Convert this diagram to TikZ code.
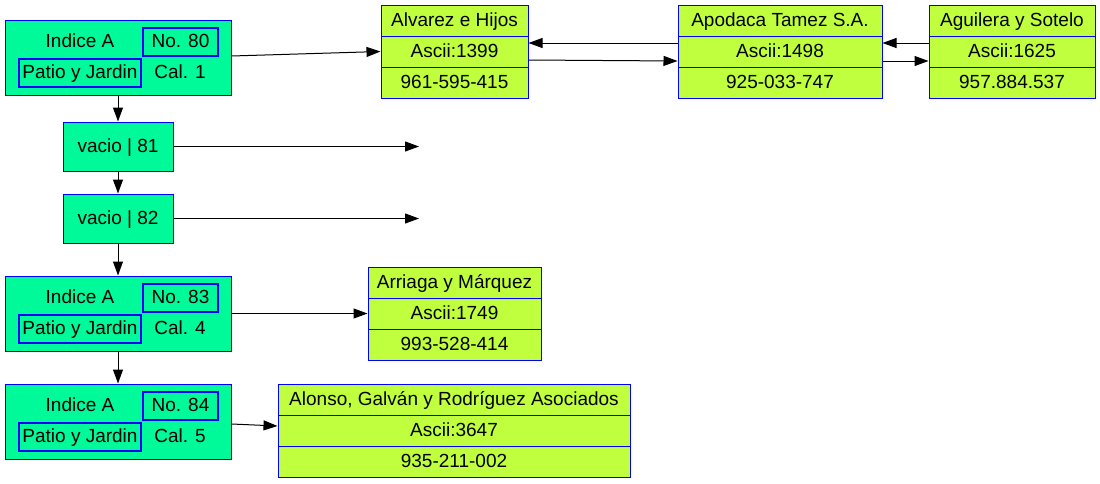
\documentclass[tikz,border=0pt]{standalone}
\usepackage{fontspec}
\setmainfont{Liberation Sans}
\usetikzlibrary{arrows.meta}
\definecolor{gfill}{HTML}{00FA9A}
\definecolor{lfill}{HTML}{C0FF3E}
\begin{document}
\begin{tikzpicture}[x=1pt,y=-1pt,
 every node/.style={font=\fontsize{19}{22}\selectfont, inner sep=0pt, text height=14.5pt, text depth=3pt},
 outer/.style={draw=blue, fill=gfill, line width=1pt, minimum width=226pt, minimum height=75pt},
 vac/.style={draw=blue, fill=gfill, line width=1pt, minimum width=110pt, minimum height=49pt},
 ibox/.style={draw=blue, line width=1.1pt, minimum height=28pt},
 fld/.style={draw=blue, fill=lfill, line width=1pt, minimum height=31pt},
 conn/.style={-{Triangle[length=14pt,width=10pt]}, line width=1pt}]
\useasboundingbox (0,0) rectangle (1100,483);

% index nodes
\node[outer] (a80) at (118,57.5) {};
\node (a80t) at (80,41.5) {Indice A};
\node[ibox, minimum width=75pt] (a80n) at (180.5,42) {No. 80};
\node[ibox, minimum width=122pt] (a80p) at (80,73) {Patio y Jardin};
\node (a80c) at (180,72.5) {Cal. 1};

\node[vac] (v81) at (118,146.5) {vacio | 81};
\node[vac] (v82) at (118,218.5) {vacio | 82};

\node[outer] (a83) at (118,313.5) {};
\node (a83t) at (80,297.5) {Indice A};
\node[ibox, minimum width=75pt] (a83n) at (180.5,298) {No. 83};
\node[ibox, minimum width=122pt] (a83p) at (80,329) {Patio y Jardin};
\node (a83c) at (180,328.5) {Cal. 4};

\node[outer] (a84) at (118,421.5) {};
\node (a84t) at (80,405.5) {Indice A};
\node[ibox, minimum width=75pt] (a84n) at (180.5,406) {No. 84};
\node[ibox, minimum width=122pt] (a84p) at (80,437) {Patio y Jardin};
\node (a84c) at (180,436.5) {Cal. 5};

% records
\node[fld, minimum width=147pt] (alv1) at (454.5,20.5) {Alvarez e Hijos};
\node[fld, minimum width=147pt] (alv2) at (454.5,51.5) {Ascii:1399};
\node[fld, minimum width=147pt] (alv3) at (454.5,82.5) {961-595-415};

\node[fld, minimum width=204pt] (apo1) at (780,20.5) {Apodaca Tamez S.A.};
\node[fld, minimum width=204pt] (apo2) at (780,51.5) {Ascii:1498};
\node[fld, minimum width=204pt] (apo3) at (780,82.5) {925-033-747};

\node[fld, minimum width=166pt] (agu1) at (1012,20.5) {Aguilera y Sotelo};
\node[fld, minimum width=166pt] (agu2) at (1012,51.5) {Ascii:1625};
\node[fld, minimum width=166pt] (agu3) at (1012,82.5) {957.884.537};

\node[fld, minimum width=173pt] (arr1) at (454.5,282.5) {Arriaga y Márquez};
\node[fld, minimum width=173pt] (arr2) at (454.5,313.5) {Ascii:1749};
\node[fld, minimum width=173pt] (arr3) at (454.5,344.5) {993-528-414};

\node[fld, minimum width=352pt] (alo1) at (454,399.5) {Alonso, Galván y Rodríguez Asociados};
\node[fld, minimum width=352pt] (alo2) at (454,430.5) {Ascii:3647};
\node[fld, minimum width=352pt] (alo3) at (454,461.5) {935-211-002};

\coordinate (e81) at (419,146.5);
\coordinate (e82) at (419,218.5);

% connectors
\draw[conn] (a80.south) -- (v81.north);
\draw[conn] (v81.south) -- (v82.north);
\draw[conn] (v82.south) -- (a83.north);
\draw[conn] (a83.south) -- (a84.north);
\draw[conn] ([yshift=1.5pt]a80.east) -- (alv2.west);
\draw[conn] (v81.east) -- (e81);
\draw[conn] (v82.east) -- (e82);
\draw[conn] (a83.east) -- (arr2.west);
\draw[conn] ([yshift=-2.5pt]a84.east) -- ([yshift=4.5pt]alo2.west);
\draw[conn] ([yshift=8.5pt]apo2.west) -- ([yshift=8.5pt]alv2.east);
\draw[conn] ([yshift=-8.5pt]alv2.east) -- ([yshift=-9.5pt]apo2.west);
\draw[conn] ([yshift=8.5pt]agu2.west) -- ([yshift=8.5pt]apo2.east);
\draw[conn] ([yshift=-9.5pt]apo2.east) -- ([yshift=-9.5pt]agu2.west);
\end{tikzpicture}
\end{document}
